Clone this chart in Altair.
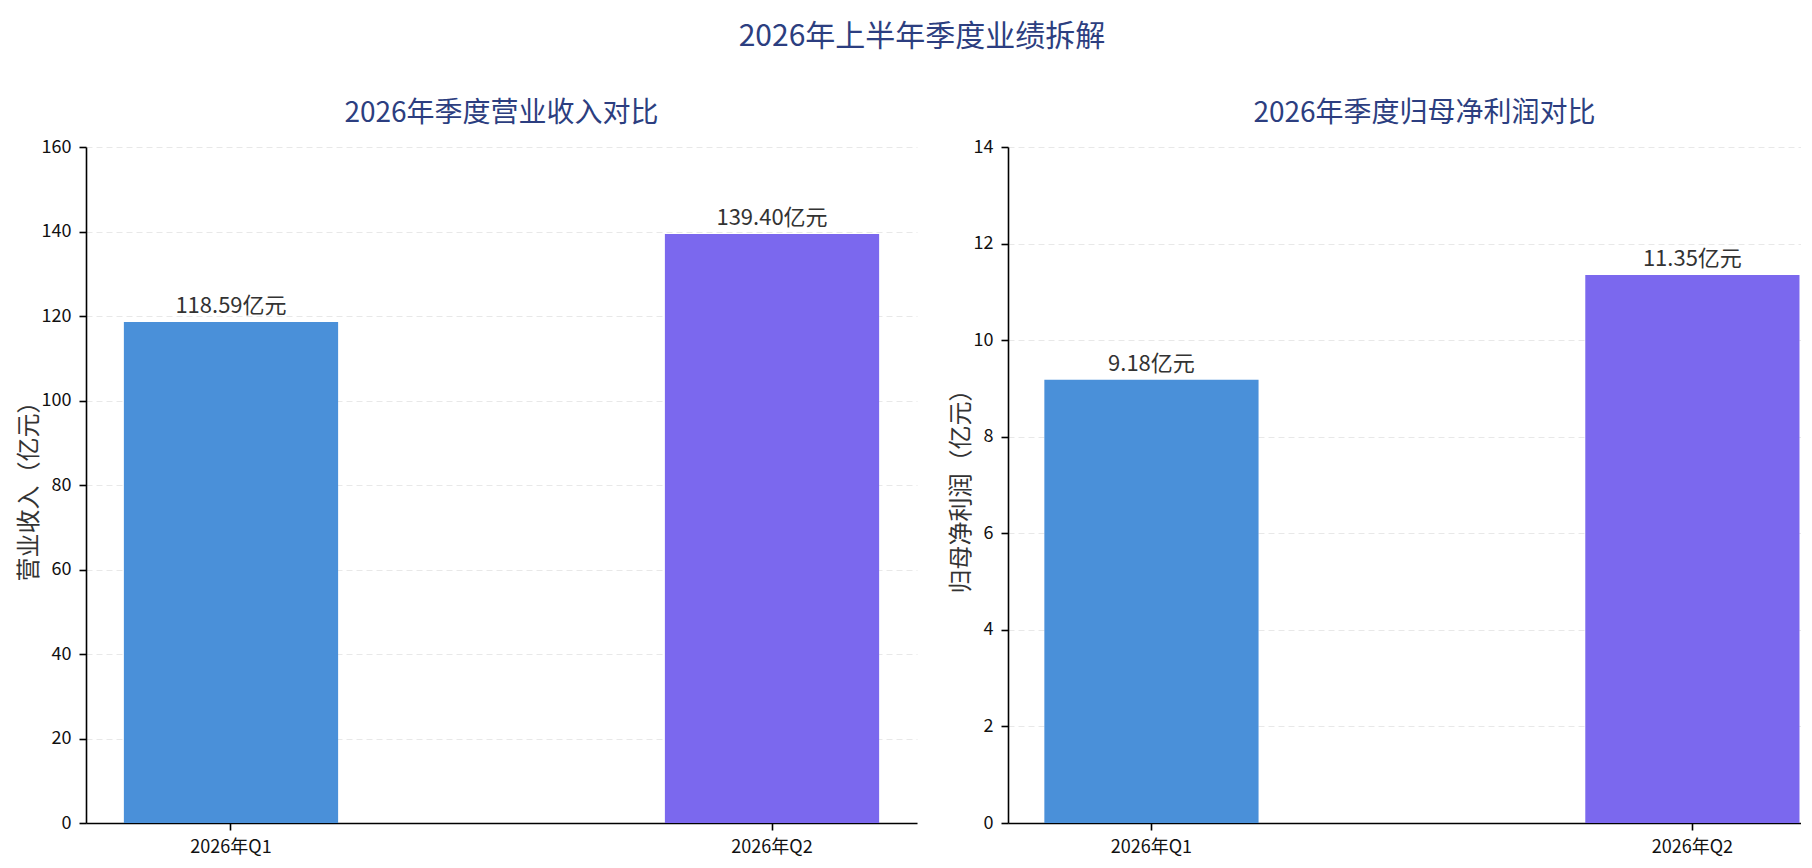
import altair as alt
import pandas as pd

FONT = "Noto Sans CJK SC"
TITLE_COLOR = "#2c3e80"

quarters = ["2026年Q1", "2026年Q2"]
revenue = [118.59, 139.40]
profit = [9.18, 11.35]
bar_colors = ["#4A90D9", "#7B68EE"]
rev_ticks = [0, 20, 40, 60, 80, 100, 120, 140, 160]
profit_ticks = [0, 2, 4, 6, 8, 10, 12, 14]

main_title = "2026年上半年季度业绩拆解"
rev_title = "2026年季度营业收入对比"
profit_title = "2026年季度归母净利润对比"
rev_ylabel = "营业收入（亿元）"
profit_ylabel = "归母净利润（亿元）"
unit = "亿元"

PLOT_H = 676
LEFT_W = 831
RIGHT_W = 793


def panel(values, ticks, ymax, title, ylabel, width, pad_outer, align, title_dx=0):
    df = pd.DataFrame({"quarter": quarters, "value": values})
    df["label"] = [f"{v:.2f}{unit}" for v in values]

    x_enc = alt.X(
        "quarter:N",
        sort=quarters,
        scale=alt.Scale(paddingInner=0.604, paddingOuter=pad_outer, align=align),
        axis=alt.Axis(
            title=None,
            labelAngle=0,
            labelFontSize=18,
            labelFont=FONT,
            labelColor="#111",
            labelPadding=8,
            tickSize=7,
            tickWidth=1.6,
            tickColor="#000",
            domainColor="#000",
            domainWidth=1.6,
            grid=False,
        ),
    )
    y_scale = alt.Scale(domain=[0, ymax], nice=False, zero=True)
    base = alt.Chart(df).encode(x=x_enc)
    bars = base.mark_bar().encode(
        y=alt.Y(
            "value:Q",
            scale=y_scale,
            axis=alt.Axis(
                title=ylabel,
                titleFontSize=24,
                titleFont=FONT,
                titleFontWeight="normal",
                titleColor="#333",
                titlePadding=0,
                values=ticks,
                labelFontSize=18,
                labelFont=FONT,
                labelColor="#111",
                labelPadding=8,
                tickSize=7,
                tickWidth=1.6,
                tickColor="#000",
                domainColor="#000",
                domainWidth=1.6,
                grid=True,
                gridColor="#e8e8e8",
                gridDash=[6, 4],
                gridWidth=1,
            ),
        ),
        color=alt.Color(
            "quarter:N",
            scale=alt.Scale(domain=quarters, range=bar_colors),
            legend=None,
        ),
    )
    text = base.mark_text(
        baseline="alphabetic", dy=-9, fontSize=22, font=FONT, color="#333"
    ).encode(y=alt.Y("value:Q", scale=y_scale), text="label:N")
    return alt.layer(bars, text).properties(
        width=width,
        height=PLOT_H,
        title=alt.TitleParams(
            title,
            fontSize=28,
            font=FONT,
            fontWeight="normal",
            color=TITLE_COLOR,
            anchor="middle",
            frame="group",
            offset=10,
            dx=title_dx,
        ),
    )


left = panel(revenue, rev_ticks, 160, rev_title, rev_ylabel, LEFT_W, 0.07, 0.5)
right = panel(
    profit, profit_ticks, 14, profit_title, profit_ylabel, RIGHT_W, 0.035, 0.96,
    title_dx=20,
)

chart = (
    alt.hconcat(left, right, spacing=32)
    .properties(
        background="white",
        padding={"left": 9, "top": 14, "right": 0, "bottom": 0},
        title=alt.TitleParams(
            main_title,
            fontSize=30,
            font=FONT,
            fontWeight="normal",
            color=TITLE_COLOR,
            anchor="middle",
            offset=48,
            dx=13,
        ),
    )
    .configure_view(stroke="transparent", strokeWidth=0)
)

chart.save("out.html", embed_options={"renderer": "svg", "actions": False})
